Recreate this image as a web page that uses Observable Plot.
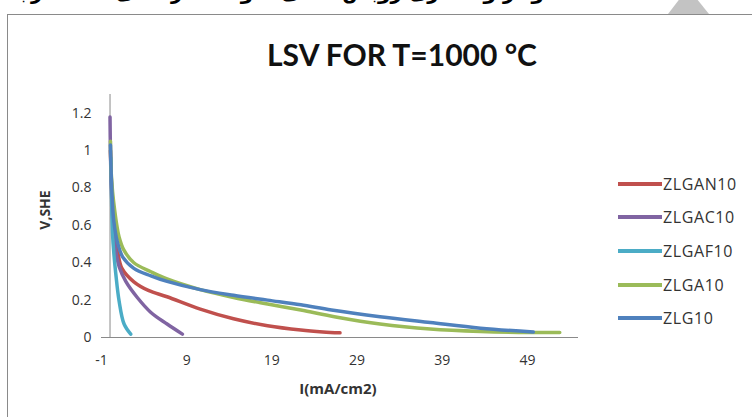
<!DOCTYPE html>
<html>
<head>
<meta charset="utf-8">
<script src="https://cdn.jsdelivr.net/npm/d3@7"></script>
<script src="https://cdn.jsdelivr.net/npm/@observablehq/plot@0.6"></script>
<style>
  html, body { margin: 0; padding: 0; background: #fff; }
  #wrap { position: relative; width: 752px; height: 417px; overflow: hidden; background: #fff; }
  #box { position: absolute; left: 7px; top: 14px; width: 760px; height: 420px; border: 1px solid #8a8a8a; box-sizing: border-box; }
  #header { position: absolute; left: 110px; top: -20px; width: 455px; text-align: center; direction: rtl;
            font: bold 20px "DejaVu Sans", sans-serif; color: #000; white-space: nowrap; }
  #tri { position: absolute; left: 0; top: 0; }
  #title { position: absolute; left: 0; width: 804px; top: 36px; text-align: center;
           font: bold 30px Lato, "Open Sans", sans-serif; color: #111; }
  #plot { position: absolute; left: 0; top: 0; }
  #legend { position: absolute; left: 618px; top: 167px; font: 16px "Open Sans", sans-serif; color: #333; letter-spacing: 0.6px; }
  .li { height: 33.6px; display: flex; align-items: center; }
  .sw { width: 44px; height: 4px; margin-right: 1px; }
  #xtitle { position: absolute; left: 238px; width: 200px; top: 378px; text-align: center;
            font: bold 15px "Open Sans", sans-serif; color: #333; }
  #ytitle { position: absolute; left: 44px; top: 210px; transform: translate(-50%, -50%) rotate(-90deg);
            font: bold 14px "Open Sans", sans-serif; color: #333; white-space: nowrap; }
</style>
</head>
<body>
<div id="wrap">
  <div id="header">نمودار ولتامتری روبش خطی نمونه‌ها در دمای ۱۰۰۰ درجه</div>
  <svg id="tri" width="752" height="20"><polygon points="668,14 709,14 688,-12" fill="#c3c3c3"/></svg>
  <div id="box"></div>
  <div id="plot"></div>
  <div id="title">LSV FOR T=1000 °C</div>
  <div id="legend"></div>
  <div id="xtitle">I(mA/cm2)</div>
  <div id="ytitle">V,SHE</div>
</div>
<script>
const seriesNames = ["ZLGAN10", "ZLGAC10", "ZLGAF10", "ZLGA10", "ZLG10"];
const seriesColors = ["#c0504d", "#8064a2", "#4bacc6", "#9bbb59", "#4f81bd"];

const zlgan10_I = [0.05, 0.15, 0.3, 0.5, 0.9, 1.4, 2.8, 4.5, 6.7, 10.6, 14.5, 18.5, 22.4, 25, 27];
const zlgan10_V = [1.0, 0.85, 0.7, 0.58, 0.46, 0.37, 0.298, 0.252, 0.218, 0.152, 0.1, 0.063, 0.04, 0.03, 0.025];

const zlgac10_I = [0, 0.05, 0.15, 0.3, 0.5, 0.8, 1.1, 1.85, 3.2, 4.8, 6.7, 8.5];
const zlgac10_V = [1.18, 1.0, 0.8, 0.65, 0.52, 0.43, 0.375, 0.3, 0.214, 0.134, 0.072, 0.018];

const zlgaf10_I = [0.1, 0.15, 0.2, 0.3, 0.45, 0.68, 1.06, 1.65, 2.43];
const zlgaf10_V = [0.96, 0.85, 0.7, 0.55, 0.45, 0.34, 0.197, 0.072, 0.018];

const zlga10_I = [0.05, 0.12, 0.3, 0.55, 0.8, 1.05, 1.6, 2.8, 4.8, 6.7, 10.6, 14.5, 18.5, 22.4, 26.5, 31.7, 37.6, 43.5, 49.3, 52.8];
const zlga10_V = [1.05, 0.9, 0.78, 0.68, 0.6, 0.54, 0.47, 0.4, 0.352, 0.313, 0.256, 0.214, 0.179, 0.147, 0.11, 0.072, 0.045, 0.032, 0.027, 0.027];

const zlg10_I = [0.05, 0.12, 0.25, 0.45, 0.87, 1.5, 2.8, 4.8, 6.7, 10.6, 14.5, 18.5, 22.4, 26, 31.7, 37.6, 43.5, 49.7];
const zlg10_V = [1.03, 0.9, 0.75, 0.62, 0.51, 0.43, 0.37, 0.33, 0.30, 0.256, 0.226, 0.20, 0.175, 0.147, 0.111, 0.08, 0.05, 0.03];

const xTicks = [-1, 9, 19, 29, 39, 49];
const yTicks = [0, 0.2, 0.4, 0.6, 0.8, 1, 1.2];

const seriesI = [zlgan10_I, zlgac10_I, zlgaf10_I, zlga10_I, zlg10_I];
const seriesV = [zlgan10_V, zlgac10_V, zlgaf10_V, zlga10_V, zlg10_V];

const rows = [];
seriesNames.forEach((name, k) => {
  seriesI[k].forEach((x, i) => rows.push({series: name, order: k, I: x, V: seriesV[k][i]}));
});

const chart = Plot.plot({
  width: 752,
  height: 417,
  marginLeft: 101,
  marginRight: 174,
  marginTop: 94,
  marginBottom: 80,
  style: {background: "transparent", fontFamily: "'Open Sans', sans-serif", color: "#333"},
  x: {domain: [-1, 55]},
  y: {domain: [0, 1.3]},
  color: {domain: seriesNames, range: seriesColors},
  marks: [
    Plot.axisX({ticks: xTicks, tickSize: 0, tickPadding: 18, fontSize: 14, label: null, tickFormat: d => String(d)}),
    Plot.axisY({ticks: yTicks, tickSize: 0, tickPadding: 10, fontSize: 14, label: null, tickFormat: d => String(d)}),
    Plot.ruleX([0], {y1: 0, y2: 1.3, stroke: "#8a8a8a", strokeWidth: 1}),
    Plot.ruleY([0], {x1: -1, x2: 55, stroke: "#8a8a8a", strokeWidth: 1}),
    ...seriesNames.map(name => Plot.line(rows.filter(r => r.series === name), {
      x: "I", y: "V", stroke: "series", strokeWidth: 3.5, curve: "catmull-rom", strokeLinecap: "round"
    }))
  ]
});
document.getElementById("plot").appendChild(chart);

const legend = document.getElementById("legend");
seriesNames.forEach((name, k) => {
  const d = document.createElement("div");
  d.className = "li";
  d.innerHTML = `<span class="sw" style="background:${seriesColors[k]}"></span><span>${name}</span>`;
  legend.appendChild(d);
});
</script>
</body>
</html>
